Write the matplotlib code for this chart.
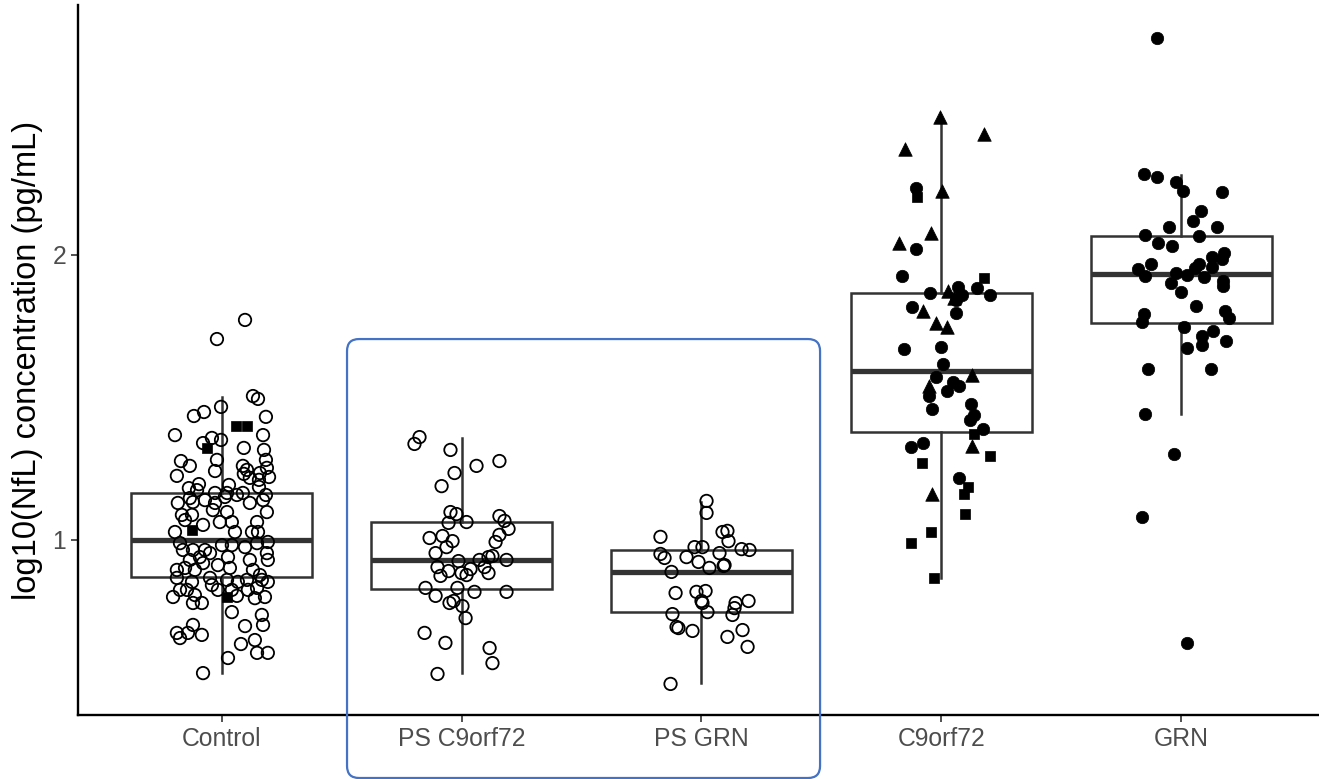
import matplotlib
matplotlib.use("Agg")
import matplotlib.pyplot as plt
from matplotlib.patches import FancyBboxPatch

plt.rcParams['font.family'] = ['Liberation Sans', 'DejaVu Sans']

# ---------------- data ----------------
categories = ["Control", "PS C9orf72", "PS GRN", "C9orf72", "GRN"]

# box statistics: (lower whisker, Q1, median, Q3, upper whisker)
box_whislo = [0.533, 0.533, 0.498, 0.867, 1.442]
box_q1     = [0.870, 0.828, 0.747, 1.379, 1.761]
box_med    = [1.000, 0.930, 0.888, 1.593, 1.933]
box_q3     = [1.165, 1.063, 0.965, 1.867, 2.067]
box_whishi = [1.502, 1.358, 1.133, 2.481, 2.281]

# Control
control_y = [1.772, 1.705, 1.505, 1.495, 1.467, 1.435, 1.449, 1.432, 1.368, 1.400,
             1.400, 1.368, 1.340, 1.358, 1.351, 1.323, 1.323, 1.316, 1.277, 1.260,
             1.281, 1.281, 1.242, 1.260, 1.246, 1.232, 1.218, 1.235, 1.253, 1.221,
             1.211, 1.225, 1.182, 1.196, 1.175, 1.193, 1.165, 1.165, 1.165, 1.186,
             1.158, 1.130, 1.147, 1.133, 1.140, 1.130, 1.151, 1.158, 1.130, 1.140,
             1.098, 1.088, 1.070, 1.088, 1.105, 1.098, 1.063, 1.063, 1.063, 1.028,
             1.035, 1.053, 1.028, 1.028, 1.028, 0.989, 0.965, 0.965, 0.965, 0.954,
             0.982, 0.982, 0.975, 0.989, 0.993, 0.954, 0.930, 0.930, 0.940, 0.912,
             0.940, 0.930, 0.895, 0.902, 0.895, 0.919, 0.902, 0.895, 0.877, 0.867,
             0.853, 0.867, 0.842, 0.860, 0.853, 0.860, 0.860, 0.853, 0.825, 0.825,
             0.825, 0.825, 0.825, 0.832, 0.800, 0.807, 0.800, 0.804, 0.796, 0.800,
             0.779, 0.779, 0.747, 0.737, 0.702, 0.698, 0.674, 0.656, 0.674, 0.702,
             0.667, 0.635, 0.649, 0.604, 0.604, 0.586, 0.533]
control_jit = [0.098, -0.019, 0.131, 0.152, -0.002, -0.115, -0.073, 0.185, -0.194, 0.060,
               0.106, 0.173, -0.077, -0.040, -0.002, -0.061, 0.093, 0.177, -0.169, -0.132,
               -0.019, 0.185, -0.027, 0.089, 0.106, 0.093, 0.118, 0.160, 0.189, 0.198,
               0.156, -0.186, -0.136, -0.094, -0.102, 0.031, -0.027, 0.023, 0.089, 0.156,
               0.185, -0.182, -0.132, -0.119, -0.069, -0.027, 0.014, 0.064, 0.118, 0.173,
               0.189, -0.165, -0.152, -0.123, -0.036, 0.023, -0.007, 0.043, 0.148, -0.194,
               -0.123, -0.077, 0.056, 0.127, 0.152, -0.173, -0.161, -0.119, -0.069, -0.048,
               0.002, 0.043, 0.098, 0.148, 0.193, 0.189, 0.193, -0.132, -0.090, -0.015,
               0.027, 0.118, -0.186, -0.152, -0.111, -0.077, 0.035, 0.131, 0.160, -0.186,
               -0.123, -0.048, -0.040, 0.023, 0.068, 0.106, 0.168, 0.193, -0.173, -0.144,
               -0.015, 0.043, 0.110, 0.148, -0.202, -0.111, 0.023, 0.064, 0.139, 0.181,
               -0.119, -0.082, 0.043, 0.168, 0.173, 0.098, -0.186, -0.173, -0.140, -0.119,
               -0.082, 0.081, 0.139, 0.148, 0.193, 0.027, -0.077]
control_square_idx = [9, 10, 15, 60, 106]

# PS C9orf72
ps_c9_y = [1.361, 1.337, 1.316, 1.277, 1.260, 1.235, 1.189, 1.098, 1.091, 1.060,
           1.063, 1.084, 1.067, 1.039, 1.007, 1.014, 0.996, 0.975, 1.018, 0.993,
           0.954, 0.926, 0.930, 0.940, 0.944, 0.930, 0.905, 0.891, 0.874, 0.884,
           0.877, 0.898, 0.905, 0.884, 0.832, 0.804, 0.832, 0.818, 0.818, 0.779,
           0.786, 0.768, 0.726, 0.674, 0.639, 0.621, 0.568, 0.530]
ps_c9_jit = [-0.175, -0.196, -0.046, 0.158, 0.0625, -0.029, -0.083, -0.046, -0.021, -0.054,
             0.021, 0.158, 0.179, 0.196, -0.133, -0.079, -0.0375, -0.0625, 0.158, 0.142,
             -0.108, -0.0125, 0.075, 0.1125, 0.129, 0.1875, -0.1, -0.054, -0.0875, 0.0,
             0.021, 0.0375, 0.096, 0.1125, -0.15, -0.108, -0.017, 0.054, 0.1875, -0.05,
             -0.033, 0.004, 0.017, -0.154, -0.067, 0.117, 0.129, -0.1]

# PS GRN
ps_grn_y = [1.137, 1.095, 1.028, 1.032, 0.996, 1.011, 0.975, 0.975, 0.954, 0.968,
            0.965, 0.951, 0.937, 0.940, 0.923, 0.902, 0.909, 0.912, 0.888, 0.814,
            0.818, 0.821, 0.786, 0.779, 0.747, 0.779, 0.761, 0.786, 0.737, 0.740,
            0.695, 0.691, 0.681, 0.660, 0.684, 0.625, 0.495]
ps_grn_jit = [0.021, 0.021, 0.0875, 0.108, 0.1125, -0.171, -0.029, 0.004, 0.075, 0.167,
              0.2, -0.171, -0.154, -0.0625, -0.0125, 0.033, 0.092, 0.096, -0.125, -0.108,
              -0.021, 0.017, 0.0, 0.004, 0.025, 0.142, 0.1375, 0.196, 0.129, -0.121,
              -0.104, -0.096, -0.0375, 0.108, 0.171, 0.192, -0.129]

# C9orf72 (c = circle, s = square, t = triangle)
c9_y = [2.484, 2.425, 2.372, 2.235, 2.204, 2.225, 2.077, 2.042, 2.021, 1.926,
        1.919, 1.884, 1.867, 1.874, 1.888, 1.860, 1.860, 1.849, 1.842, 1.818,
        1.804, 1.796, 1.761, 1.747, 1.670, 1.677, 1.618, 1.579, 1.572, 1.540,
        1.554, 1.540, 1.505, 1.523, 1.460, 1.477, 1.439, 1.421, 1.389, 1.372,
        1.326, 1.340, 1.330, 1.295, 1.270, 1.218, 1.186, 1.161, 1.161, 1.091,
        1.028, 0.989, 0.867]
c9_jit = [-0.008, 0.179, -0.15, -0.108, -0.104, 0.004, -0.042, -0.179, -0.108, -0.1625,
          0.179, 0.146, -0.046, 0.029, 0.067, 0.0875, 0.204, 0.054, 0.0625, -0.121,
          -0.075, 0.0625, -0.021, 0.021, -0.158, 0.0, 0.008, 0.129, -0.021, -0.05,
          0.05, 0.071, -0.054, 0.021, -0.0375, 0.125, 0.1375, 0.117, 0.171, 0.1375,
          -0.129, -0.075, 0.129, 0.204, -0.083, 0.075, 0.1125, 0.092, -0.0375, 0.096,
          -0.042, -0.125, -0.033]
c9_shape = list("tttcsttt" "ccscctcc" "ctcctctt" "ccctctcc" "cccccccs" "cctsscss" "tssss")

# GRN
grn_y = [2.761, 2.284, 2.274, 2.256, 2.225, 2.221, 2.154, 2.119, 2.098, 2.098,
         2.070, 2.067, 2.042, 2.032, 2.007, 1.986, 1.993, 1.968, 1.954, 1.968,
         1.951, 1.926, 1.958, 1.937, 1.930, 1.923, 1.909, 1.891, 1.902, 1.870,
         1.821, 1.793, 1.765, 1.804, 1.779, 1.747, 1.716, 1.733, 1.698, 1.674,
         1.684, 1.600, 1.600, 1.442, 1.302, 1.081, 0.639]
grn_jit = [-0.104, -0.158, -0.1, -0.021, 0.008, 0.167, 0.083, 0.05, -0.05, 0.15,
           -0.15, 0.071, -0.096, -0.0375, 0.179, 0.167, 0.129, 0.075, 0.058, -0.125,
           -0.183, -0.15, 0.129, -0.021, 0.025, 0.092, 0.171, 0.171, -0.042, 0.0,
           0.0625, -0.158, -0.1625, 0.183, 0.196, 0.0125, 0.0875, 0.133, 0.1875, 0.025,
           0.0875, -0.1375, 0.121, -0.15, -0.033, -0.1625, 0.025]

# ---------------- figure ----------------
W, H, DPI = 1319, 779, 100
fig = plt.figure(figsize=(W / DPI, H / DPI), dpi=DPI)
ax = fig.add_axes([78 / W, (H - 715) / H, (W - 78) / W, (715 - 5) / H])

pos = list(range(len(categories)))
stats = []
for i in pos:
    stats.append(dict(med=box_med[i], q1=box_q1[i], q3=box_q3[i],
                      whislo=box_whislo[i], whishi=box_whishi[i], fliers=[]))
line_col = "#333333"
ax.bxp(stats, positions=pos, widths=0.755, showcaps=False, showfliers=False,
       patch_artist=True,
       boxprops=dict(facecolor="white", edgecolor=line_col, linewidth=1.8),
       medianprops=dict(color=line_col, linewidth=3.8, solid_capstyle="butt"),
       whiskerprops=dict(color=line_col, linewidth=1.8),
       zorder=2)

MS_C = 80   # circle area
MS_S = 62
MS_T = 95


def scatter(xc, jit, ys, marker, filled, size):
    xs = [xc + j for j in jit]
    if filled:
        ax.scatter(xs, ys, s=size, marker=marker, facecolor="black",
                   edgecolor="black", linewidth=0.5, zorder=3)
    else:
        ax.scatter(xs, ys, s=size, marker=marker, facecolor="none",
                   edgecolor="black", linewidth=1.3, zorder=3)


# Control
ci_j = [j for k, j in enumerate(control_jit) if k not in control_square_idx]
ci_y = [y for k, y in enumerate(control_y) if k not in control_square_idx]
sq_j = [control_jit[k] for k in control_square_idx]
sq_y = [control_y[k] for k in control_square_idx]
scatter(0, ci_j, ci_y, "o", False, MS_C)
scatter(0, sq_j, sq_y, "s", True, MS_S)
# PS groups
scatter(1, ps_c9_jit, ps_c9_y, "o", False, MS_C)
scatter(2, ps_grn_jit, ps_grn_y, "o", False, MS_C)
# C9orf72
for code, mk, sz in (("c", "o", MS_C), ("s", "s", MS_S), ("t", "^", MS_T)):
    jj = [j for j, s in zip(c9_jit, c9_shape) if s == code]
    yy = [y for y, s in zip(c9_y, c9_shape) if s == code]
    scatter(3, jj, yy, mk, True, sz)
# GRN
scatter(4, grn_jit, grn_y, "o", True, MS_C)

ax.set_xlim(-0.598, 4.573)
ax.set_ylim(0.386, 2.877)
ax.set_xticks(pos)
ax.set_xticklabels(categories)
ax.set_yticks([1, 2])
ax.set_yticklabels(["1", "2"])
ax.tick_params(axis="both", labelsize=17.8, labelcolor="#4d4d4d", color="#333333",
               length=5, width=1.2, pad=3.5)
for side in ("top", "right"):
    ax.spines[side].set_visible(False)
for side in ("left", "bottom"):
    ax.spines[side].set_linewidth(1.7)
    ax.spines[side].set_color("black")
ax.set_ylabel("log10(NfL) concentration (pg/mL)", fontsize=23.5, color="black", labelpad=7)

# blue rounded highlight rectangle around the pre-symptomatic groups
x0, x1 = 0.523, 2.494
y1, y0 = 1.705, 0.165
rect = FancyBboxPatch((x0, y0), x1 - x0, y1 - y0,
                      boxstyle="round,pad=0,rounding_size=0.05",
                      mutation_aspect=240 / 285,
                      facecolor="none", edgecolor="#4472C4", linewidth=1.6,
                      clip_on=False, zorder=5)
ax.add_patch(rect)

fig.savefig("out.png", dpi=DPI)
